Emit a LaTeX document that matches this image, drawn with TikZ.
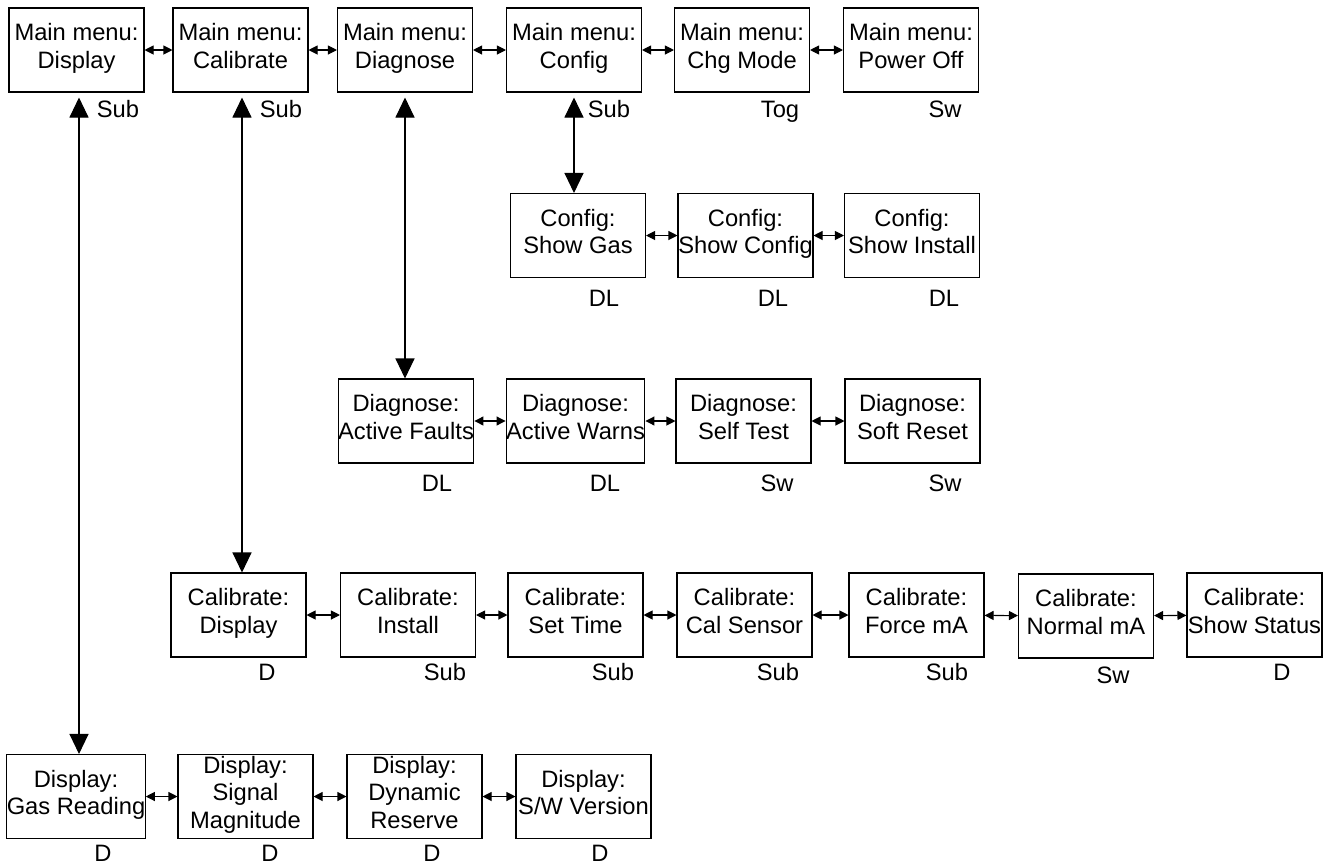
\documentclass[tikz,border=0pt]{standalone}
\usepackage{fontspec}
\setmainfont{Liberation Sans}
\usepackage{tikz}
\usetikzlibrary{arrows.meta}

\begin{document}
\begin{tikzpicture}[
  every node/.style={font=\fontsize{13.5}{15.6}\selectfont},
  menubox/.style={draw, line width=0.6pt, rectangle, minimum width=2.7cm, minimum height=1.68cm, inner sep=0pt, align=center,
    execute at begin node={\rule{0pt}{14.4pt}\strut}, execute at end node=\strut},
  keylabel/.style={inner sep=0pt, anchor=base},
  hlink/.style={line width=0.6pt, {Triangle[length=0.18cm,width=0.18cm]}-{Triangle[length=0.18cm,width=0.18cm]}},
  vlink/.style={line width=0.6pt, {Triangle[length=0.4cm,width=0.38cm]}-{Triangle[length=0.4cm,width=0.38cm]}}
]
\useasboundingbox (0,0) rectangle (26.66,-17.28);

\node[menubox] (mdisp) at (1.53,-1.0) {Main menu:\\Display};
\node[menubox] (mcal) at (4.81,-1.0) {Main menu:\\Calibrate};
\node[menubox] (mdiag) at (8.1,-1.0) {Main menu:\\Diagnose};
\node[menubox] (mconf) at (11.48,-1.0) {Main menu:\\Config};
\node[menubox] (mmode) at (14.84,-1.0) {Main menu:\\Chg Mode};
\node[menubox] (mpower) at (18.22,-1.0) {Main menu:\\Power Off};

\node[menubox] (cgas) at (11.56,-4.71) {Config:\\Show Gas};
\node[menubox] (cconf) at (14.91,-4.71) {Config:\\Show Config};
\node[menubox] (cinst) at (18.24,-4.71) {Config:\\Show Install};

\node[menubox] (dfault) at (8.12,-8.42) {Diagnose:\\Active Faults};
\node[menubox] (dwarn) at (11.51,-8.42) {Diagnose:\\Active Warns};
\node[menubox] (dtest) at (14.87,-8.42) {Diagnose:\\Self Test};
\node[menubox] (dreset) at (18.25,-8.42) {Diagnose:\\Soft Reset};

\node[menubox] (cadisp) at (4.77,-12.3) {Calibrate:\\Display};
\node[menubox] (cainst) at (8.16,-12.3) {Calibrate:\\Install};
\node[menubox] (catime) at (11.51,-12.3) {Calibrate:\\Set Time};
\node[menubox] (casens) at (14.89,-12.3) {Calibrate:\\Cal Sensor};
\node[menubox] (caforce) at (18.33,-12.3) {Calibrate:\\Force mA};
\node[menubox] (canorm) at (21.72,-12.32) {Calibrate:\\Normal mA};
\node[menubox] (castat) at (25.09,-12.3) {Calibrate:\\Show Status};

\node[menubox] (dgas) at (1.52,-15.93) {Display:\\Gas Reading};
\node[menubox] (dsig) at (4.91,-15.93) {Display:\\Signal\\Magnitude};
\node[menubox] (dres) at (8.29,-15.93) {Display:\\Dynamic\\Reserve};
\node[menubox] (dver) at (11.67,-15.93) {Display:\\S/W Version};

\node[keylabel] (lmdisp) at (2.36,-2.35) {Sub};
\node[keylabel] (lmcal) at (5.62,-2.35) {Sub};
\node[keylabel] (lmconf) at (12.18,-2.35) {Sub};
\node[keylabel] (lmmode) at (15.6,-2.35) {Tog};
\node[keylabel] (lmpower) at (18.9,-2.35) {Sw};

\node[keylabel] (lcgas) at (12.08,-6.13) {DL};
\node[keylabel] (lcconf) at (15.46,-6.13) {DL};
\node[keylabel] (lcinst) at (18.88,-6.13) {DL};

\node[keylabel] (ldfault) at (8.74,-9.83) {DL};
\node[keylabel] (ldwarn) at (12.1,-9.83) {DL};
\node[keylabel] (ldtest) at (15.54,-9.83) {Sw};
\node[keylabel] (ldreset) at (18.9,-9.83) {Sw};

\node[keylabel] (lcadisp) at (5.34,-13.61) {D};
\node[keylabel] (lcainst) at (8.9,-13.61) {Sub};
\node[keylabel] (lcatime) at (12.26,-13.61) {Sub};
\node[keylabel] (lcasens) at (15.56,-13.61) {Sub};
\node[keylabel] (lcaforce) at (18.94,-13.61) {Sub};
\node[keylabel] (lcanorm) at (22.26,-13.67) {Sw};
\node[keylabel] (lcastat) at (25.64,-13.61) {D};

\node[keylabel] (ldgas) at (2.06,-17.22) {D};
\node[keylabel] (ldsig) at (5.4,-17.22) {D};
\node[keylabel] (ldres) at (8.64,-17.22) {D};
\node[keylabel] (ldver) at (12.0,-17.22) {D};

\draw[hlink] (mdisp) -- (mcal);
\draw[hlink] (mcal) -- (mdiag);
\draw[hlink] (mdiag) -- (mconf);
\draw[hlink] (mconf) -- (mmode);
\draw[hlink] (mmode) -- (mpower);

\draw[hlink] (cgas) -- (cconf);
\draw[hlink] (cconf) -- (cinst);

\draw[hlink] (dfault) -- (dwarn);
\draw[hlink] (dwarn) -- (dtest);
\draw[hlink] (dtest) -- (dreset);

\draw[hlink] (cadisp) -- (cainst);
\draw[hlink] (cainst) -- (catime);
\draw[hlink] (catime) -- (casens);
\draw[hlink] (casens) -- (caforce);
\draw[hlink] (caforce) -- (canorm);
\draw[hlink] (canorm) -- (castat);

\draw[hlink] (dgas) -- (dsig);
\draw[hlink] (dsig) -- (dres);
\draw[hlink] (dres) -- (dver);

\draw[vlink] ([xshift=0.05cm,yshift=-0.1cm]mdisp.south) -- ([xshift=0.05cm]mdisp.south |- dgas.north);
\draw[vlink] ([xshift=0.03cm,yshift=-0.1cm]mcal.south) -- ([xshift=0.03cm]mcal.south |- cadisp.north);
\draw[vlink] ([yshift=-0.1cm]mdiag.south) -- (mdiag.south |- dfault.north);
\draw[vlink] ([yshift=-0.1cm]mconf.south) -- (mconf.south |- cgas.north);
\end{tikzpicture}
\end{document}
